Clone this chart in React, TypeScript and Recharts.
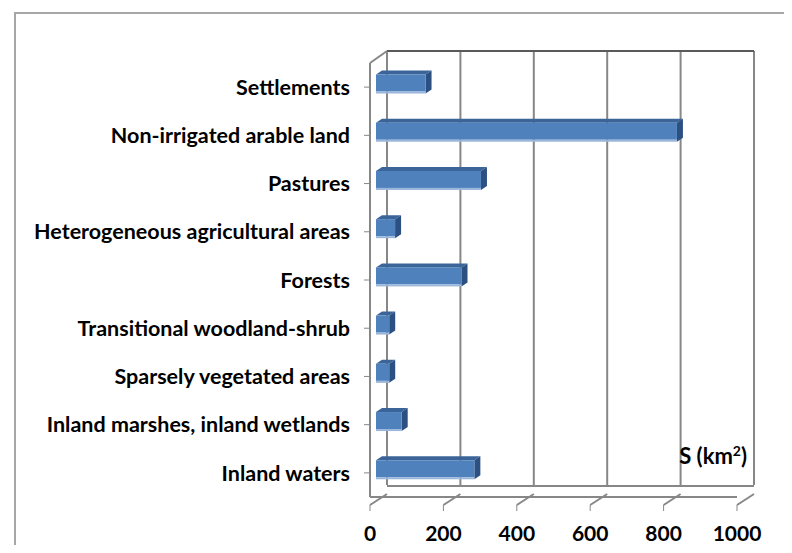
import React from 'react';
import { BarChart, Bar, XAxis, YAxis, CartesianGrid } from 'recharts';

const categories = [
  'Settlements',
  'Non-irrigated arable land',
  'Pastures',
  'Heterogeneous agricultural areas',
  'Forests',
  'Transitional woodland-shrub',
  'Sparsely vegetated areas',
  'Inland marshes, inland wetlands',
  'Inland waters',
];
const areas = [135, 820, 286, 52, 233, 36, 36, 70, 268];
const xTicks = [0, 200, 400, 600, 800, 1000];

const data = categories.map((name, i) => ({ name, area: areas[i] }));

// layout of the fake 3D box
const W = 792;
const H = 553;
const TOP = 63;
const BOTTOM = 497;
const LEFT = 370;
const RIGHT = 737;
const DX = 17; // depth shift to the back wall
const DY = -11;
const FONT = 'Lato, "Open Sans", sans-serif';
const GRID = '#878787';

const scaleX = (xAxis: any, t: number) => {
  const s = xAxis && xAxis.scale;
  if (typeof s === 'function') return s(t);
  if (s && typeof s.map === 'function') return s.map(t);
  return LEFT + (t / 1000) * (RIGHT - LEFT);
};

const Bar3D = (props: any) => {
  const { x, y, width, height } = props;
  if (width == null || height == null) return null;
  const fx = x + 6;
  const fy = y - 3.5;
  const d = 6;
  const e = 4;
  const w = Math.max(width, 0);
  return (
    <g>
      <polygon
        points={`${fx},${fy} ${fx + d},${fy - e} ${fx + w + d},${fy - e} ${fx + w},${fy}`}
        fill="#3b6499"
      />
      <polygon
        points={`${fx + w},${fy} ${fx + w + d},${fy - e} ${fx + w + d},${fy + height - e} ${fx + w},${fy + height}`}
        fill="#2d5082"
      />
      <rect x={fx} y={fy} width={w} height={height - 2} fill="#4f81bd" />
      <rect x={fx} y={fy + height - 2} width={w} height={2} fill="#9ab6dc" />
    </g>
  );
};

const XTick = (props: any) => {
  const { x, y, payload } = props;
  return (
    <g>
      <line x1={x} y1={y} x2={x + DX} y2={y + DY} stroke={GRID} strokeWidth={2} />
      <line x1={x} y1={y} x2={x} y2={y + 6} stroke={GRID} strokeWidth={1} />
      {payload.value === 0 && (
        <line x1={x} y1={TOP} x2={x + DX} y2={TOP + DY - 1} stroke={GRID} strokeWidth={2} />
      )}
      <text
        x={x}
        y={y + 36}
        textAnchor="middle"
        fontFamily={FONT}
        fontWeight="bold"
        fontSize={21}
        fill="#000"
      >
        {payload.value}
      </text>
    </g>
  );
};

const UnitLabel = () => (
  <text x={747} y={464} textAnchor="end" fontFamily={FONT} fontWeight="bold" fontSize={22} fill="#000">
    S (km
    <tspan dy={-8} fontSize={14}>2</tspan>
    <tspan dy={8}>)</tspan>
  </text>
);

export default function App() {
  return (
    <div style={{ margin: -8, width: W, height: H, position: 'relative', overflow: 'hidden', background: '#fff' }}>
      <div
        style={{
          position: 'absolute',
          left: 14,
          top: 12,
          width: W,
          height: H,
          border: '2px solid #a6a6a6',
        }}
      />
      <div style={{ position: 'absolute', left: 0, top: 0 }}>
        <BarChart
          width={W}
          height={H}
          data={data}
          layout="vertical"
          margin={{ top: TOP, right: W - RIGHT, bottom: H - BOTTOM - 30, left: 0 }}
        >
          <CartesianGrid
            x={LEFT + DX}
            y={TOP + DY - 1}
            width={RIGHT - LEFT}
            height={BOTTOM - TOP}
            horizontal
            vertical
            horizontalCoordinatesGenerator={() => [BOTTOM + DY]}
            verticalCoordinatesGenerator={({ xAxis }: any) => xTicks.map((t) => scaleX(xAxis, t) + DX)}
            stroke={GRID}
            strokeWidth={2}
            fill="none"
          />
          <CartesianGrid
            x={LEFT + DX}
            y={TOP + DY - 1}
            width={RIGHT - LEFT}
            height={BOTTOM - TOP}
            vertical={false}
            horizontalCoordinatesGenerator={() => [TOP + DY - 1]}
            stroke="#5a5a5a"
            strokeWidth={2}
          />
          <XAxis
            type="number"
            domain={[0, 1000]}
            ticks={xTicks}
            interval={0}
            height={30}
            axisLine={{ stroke: GRID, strokeWidth: 2 }}
            tickLine={false}
            tick={<XTick />}
            label={{ content: () => <UnitLabel /> }}
          />
          <YAxis
            type="category"
            dataKey="name"
            width={LEFT}
            tickSize={6}
            tickMargin={14}
            interval={0}
            axisLine={{ stroke: GRID, strokeWidth: 2 }}
            tickLine={{ stroke: GRID }}
            tick={{ fill: '#000', fontFamily: FONT, fontWeight: 'bold', fontSize: 21.5 }}
          />
          <Bar dataKey="area" barSize={19} shape={<Bar3D />} isAnimationActive={false} />
        </BarChart>
      </div>
    </div>
  );
}
